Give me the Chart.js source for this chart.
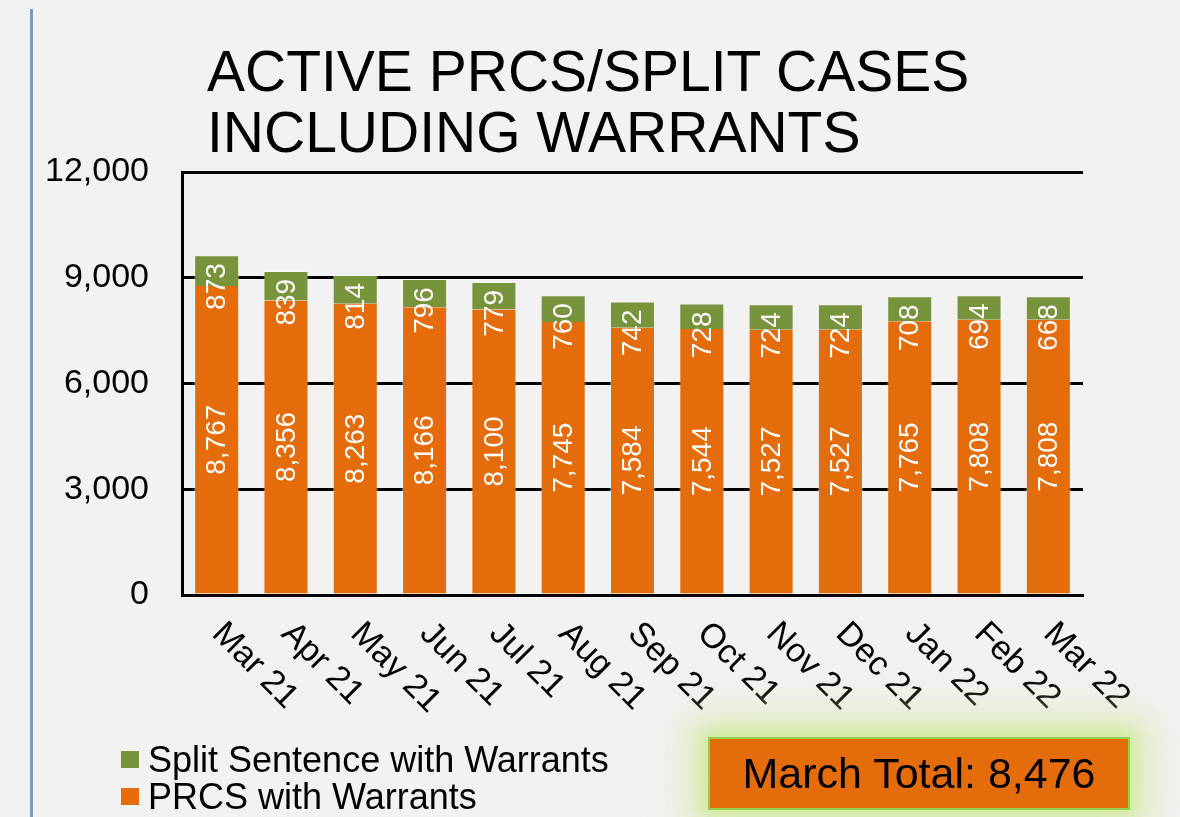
<!DOCTYPE html>
<html>
<head>
<meta charset="utf-8">
<title>Active PRCS/Split Cases Including Warrants</title>
<script src="https://cdn.jsdelivr.net/npm/chart.js@4.4.1/dist/chart.umd.min.js"></script>
<style>
  html, body { margin: 0; padding: 0; background: #f2f2f2; }
  body { width: 1180px; height: 817px; position: relative; overflow: hidden;
         font-family: "Liberation Sans", Arial, sans-serif; color: #000; }
  #wrap { position: absolute; left: 0; top: 0; width: 1180px; height: 817px; }
  #edge { position: absolute; left: 30px; top: 9px; width: 3px; height: 808px; background: #6f9bd1; }
  #title { position: absolute; left: 207px; top: 41px; font-size: 57px; line-height: 61px; white-space: nowrap; }
  .leg { position: absolute; left: 121px; height: 40px; font-size: 36px; line-height: 40px; white-space: nowrap; }
  .leg i { position: absolute; left: 0; top: 11px; width: 18px; height: 17px; }
  .leg span { position: absolute; left: 27px; top: 0; }
  #total { position: absolute; left: 708px; top: 737px; width: 418px; height: 69px;
           background: #e46c0a; border: 2px solid #92d050;
           box-shadow: 0 0 16px 8px rgba(211, 233, 160, 0.95), 0 0 44px 22px rgba(214, 234, 170, 0.7);
           font-size: 43px; line-height: 69px; text-align: center; white-space: nowrap; }
</style>
</head>
<body>
<div id="edge"></div>
<div id="wrap"><canvas id="chart"></canvas></div>
<div id="title">ACTIVE PRCS/SPLIT CASES<br>INCLUDING WARRANTS</div>
<div id="legend"></div>
<div id="total"></div>
<script>
// valori (casi attivi per mese)
const months = ["Mar 21", "Apr 21", "May 21", "Jun 21", "Jul 21", "Aug 21", "Sep 21",
                "Oct 21", "Nov 21", "Dec 21", "Jan 22", "Feb 22", "Mar 22"];
const prcsWarrants = [8767, 8356, 8263, 8166, 8100, 7745, 7584, 7544, 7527, 7527, 7765, 7808, 7808];
const splitWarrants = [873, 839, 814, 796, 779, 760, 742, 728, 724, 724, 708, 694, 668];
const yTicks = [0, 3000, 6000, 9000, 12000];
const seriesNames = ["PRCS with Warrants", "Split Sentence with Warrants"];
const seriesColors = ["#e46c0a", "#77933c"];

const FONT = '"Liberation Sans", Arial, sans-serif';
const fmt = v => v.toLocaleString("en-US");

// legenda: in alto la serie impilata sopra
const legend = document.getElementById("legend");
[1, 0].forEach((idx, row) => {
  const d = document.createElement("div");
  d.className = "leg";
  d.style.top = (740 + row * 37) + "px";
  d.innerHTML = `<i style="background:${seriesColors[idx]}"></i><span>${seriesNames[idx]}</span>`;
  legend.appendChild(d);
});

const last = months.length - 1;
document.getElementById("total").textContent =
  `March Total: ${fmt(prcsWarrants[last] + splitWarrants[last])}`;

// etichette dei valori dentro le barre, ruotate
const barLabels = {
  id: "barLabels",
  afterDatasetsDraw(chart) {
    const ctx = chart.ctx;
    ctx.save();
    ctx.fillStyle = "#ffffff";
    ctx.font = `28px ${FONT}`;
    ctx.textAlign = "center";
    ctx.textBaseline = "middle";
    chart.data.datasets.forEach((ds, di) => {
      chart.getDatasetMeta(di).data.forEach((el, i) => {
        const txt = fmt(ds.data[i]);
        let y = (el.y + el.base) / 2;
        // la serie in cima parte poco sotto il bordo superiore, come in Excel
        if (di === 1) y = el.y + 8 + ctx.measureText(txt).width / 2;
        ctx.save();
        ctx.translate(el.x, y);
        ctx.rotate(-Math.PI / 2);
        ctx.fillText(txt, 0, 1);
        ctx.restore();
      });
    });
    ctx.restore();
  }
};

// etichette asse x inclinate verso il basso a destra
const slantedTicks = {
  id: "slantedTicks",
  afterDraw(chart) {
    const ctx = chart.ctx;
    const xs = chart.scales.x;
    ctx.save();
    ctx.fillStyle = "#000";
    ctx.font = `34px ${FONT}`;
    ctx.textAlign = "left";
    ctx.textBaseline = "alphabetic";
    months.forEach((m, i) => {
      ctx.save();
      ctx.translate(xs.getPixelForValue(i) - 6, xs.bottom - 182);
      ctx.rotate(Math.PI / 4);
      ctx.fillText(m, 0, 0);
      ctx.restore();
    });
    ctx.restore();
  }
};

const edge = "rgba(255,255,255,0.35)";

new Chart(document.getElementById("chart"), {
  type: "bar",
  data: {
    labels: months,
    datasets: [
      { label: seriesNames[0], data: prcsWarrants, backgroundColor: seriesColors[0],
        borderColor: edge, borderWidth: { left: 1, right: 1, top: 0, bottom: 0 }, borderSkipped: false },
      { label: seriesNames[1], data: splitWarrants, backgroundColor: seriesColors[1],
        borderColor: edge, borderWidth: { left: 1, right: 1, top: 1, bottom: 0 }, borderSkipped: false },
    ],
  },
  options: {
    responsive: true,
    maintainAspectRatio: false,
    animation: false,
    layout: { padding: { left: 0, top: 172, right: 97, bottom: 0 } },
    datasets: { bar: { categoryPercentage: 1, barPercentage: 0.65 } },
    plugins: { legend: { display: false }, title: { display: false }, tooltip: { enabled: false } },
    scales: {
      x: {
        stacked: true,
        grid: { display: false },
        border: { display: true, color: "#000", width: 3 },
        ticks: { display: false },
        afterFit: s => { s.height = 222; },
      },
      y: {
        stacked: true,
        min: 0,
        max: 12000,
        afterBuildTicks: s => { s.ticks = yTicks.map(v => ({ value: v })); },
        grid: { color: "#000", lineWidth: 3, drawTicks: false },
        border: { display: true, color: "#000", width: 3 },
        ticks: { color: "#000", padding: 33, font: { family: FONT, size: 34 } },
        afterFit: s => { s.width = 182; },
      },
    },
  },
  plugins: [barLabels, slantedTicks],
});
</script>
</body>
</html>
